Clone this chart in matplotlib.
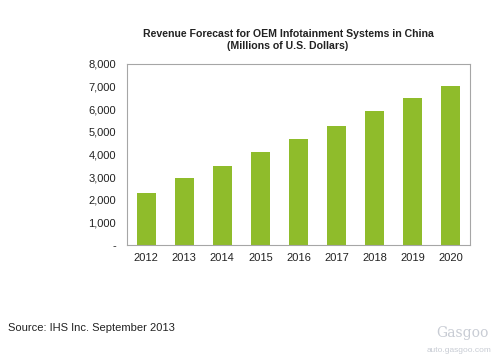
import numpy as np
import matplotlib
matplotlib.use("Agg")
import matplotlib.pyplot as plt

years = ["2012", "2013", "2014", "2015", "2016", "2017", "2018", "2019", "2020"]
revenue = [2310, 2950, 3500, 4110, 4670, 5270, 5900, 6510, 7025]
y_ticks = [0, 1000, 2000, 3000, 4000, 5000, 6000, 7000, 8000]
y_labels = ["-", "1,000", "2,000", "3,000", "4,000", "5,000", "6,000", "7,000", "8,000"]

plt.rcParams["font.family"] = ["Liberation Sans", "DejaVu Sans"]

fig = plt.figure(figsize=(5, 3.57), dpi=100)
ax = fig.add_axes([0.254, 0.314, 0.686, 0.507])

x = np.arange(len(years))
ax.bar(x, revenue, width=0.5, color="#8fbc2b")
ax.set_xlim(-0.5, len(years) - 0.5)
ax.set_ylim(0, 8000)
ax.set_xticks(x)
ax.set_xticklabels(years, fontsize=8, color="#222222")
ax.set_yticks(y_ticks)
ax.set_yticklabels(y_labels, fontsize=8, color="#222222")
ax.tick_params(length=0)
ax.tick_params(axis="y", pad=8)
ax.tick_params(axis="x", pad=6)
for s in ax.spines.values():
    s.set_color("#a6a6a6")
    s.set_linewidth(0.8)

fig.text(0.576, 0.905, "Revenue Forecast for OEM Infotainment Systems in China",
         ha="center", va="center", fontsize=7.6, fontweight="bold", color="#222222")
fig.text(0.576, 0.871, "(Millions of U.S. Dollars)",
         ha="center", va="center", fontsize=7.6, fontweight="bold", color="#222222")

fig.text(0.016, 0.081, "Source: IHS Inc. September 2013", ha="left", va="center",
         fontsize=8, color="#222222")
fig.text(0.924, 0.067, "Gasgoo", ha="center", va="center", fontsize=10,
         family="DejaVu Serif", color="#c8ccd4")
fig.text(0.918, 0.018, "auto.gasgoo.com", ha="center", va="center", fontsize=6,
         color="#c8ccd4")

fig.savefig("out.png", dpi=100)
